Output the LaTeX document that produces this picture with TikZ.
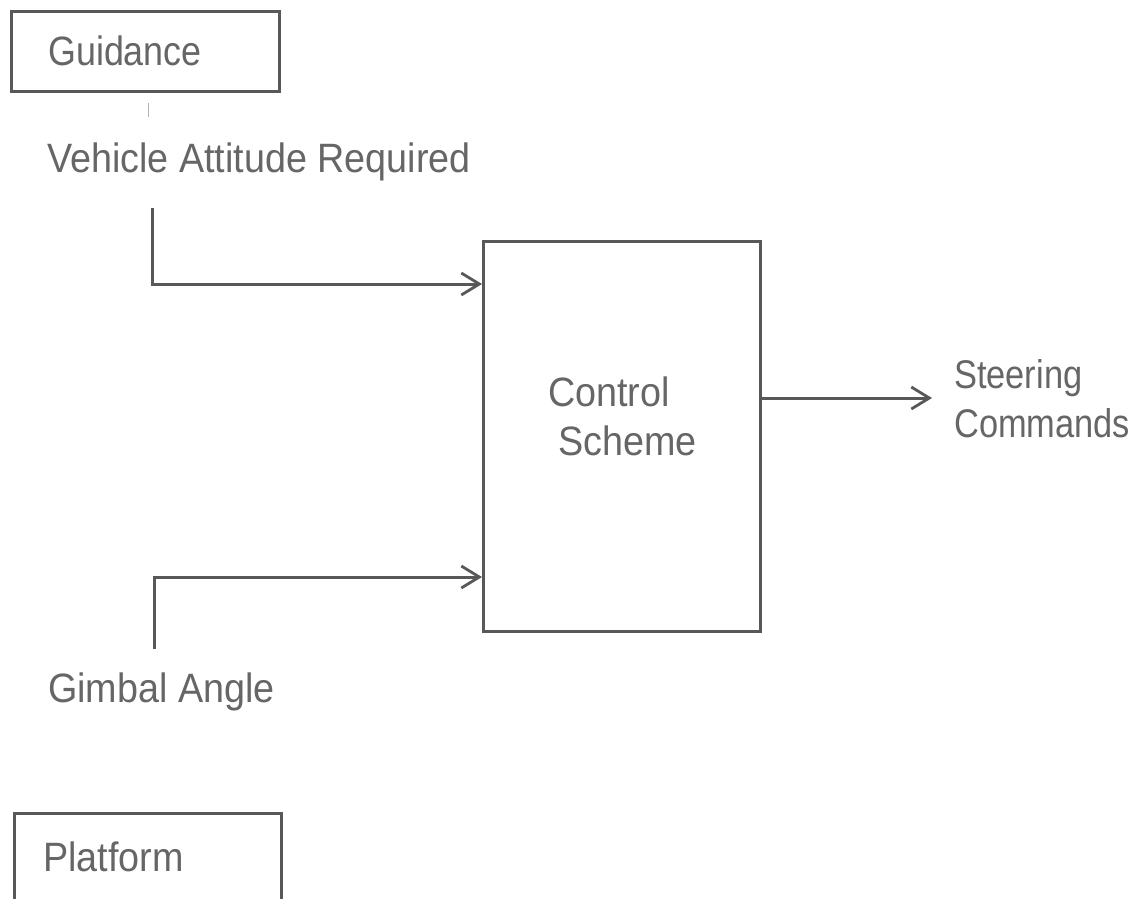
\documentclass[tikz,border=0pt]{standalone}
\usepackage{fontspec}
\setmainfont[FakeStretch=0.92]{Liberation Sans}
\newfontfamily\narrowsans[FakeStretch=0.86]{Liberation Sans}
\newfontfamily\midsans[FakeStretch=0.875]{Liberation Sans}
\usetikzlibrary{arrows.meta}
\definecolor{ink}{HTML}{585858}
\definecolor{txt}{HTML}{666666}
\begin{document}
\begin{tikzpicture}[x=1pt,y=-1pt,
  lbl/.style={font=\fontsize{41}{49}\selectfont, text=txt, inner sep=0pt},
  blk/.style={draw=ink, line width=3pt},
  wire/.style={draw=ink, line width=3pt, line join=miter},
  flow/.style={wire, -{Straight Barb[length=18pt,width=22pt,line width=2.8pt]}}]
\useasboundingbox (0,0) rectangle (1142,898);
\clip (0,0) rectangle (1142,898);
\fill[white] (0,0) rectangle (1142,898);

% source blocks
\node (guid) [blk, anchor=north west, minimum width=268pt, minimum height=80pt] at (10,10) {};
\node (guidtxt) [lbl, anchor=base west] at (48,65) {\midsans Guidance};
\node (plat) [blk, anchor=north west, minimum width=267pt, minimum height=110pt] at (13,812) {};
\node (plattxt) [lbl, anchor=base west] at (43,871) {Platform};

% faint pencil tick below the guidance block
\coordinate (tA) at (148,103);
\coordinate (tB) at (148,117);
\draw[ink!45, line width=1pt] (tA) -- (tB);

% signal labels
\node (vreq) [lbl, anchor=base west] at (47,172) {Vehicle Attitude Required};
\node (gimb) [lbl, anchor=base west] at (48,702) {Gimbal Angle};

% control block
\node (ctrl) [blk, anchor=north west, minimum width=277pt, minimum height=390pt] at (482,240) {};
\node (ctrltxt) [lbl, align=left, anchor=base west] at (548,455) {Control\\[0pt]\hspace*{10pt}Scheme};

% output label
\node (steer) [lbl, font=\fontsize{40}{49}\selectfont\narrowsans, align=left, anchor=base west] at (954,437) {Steering\\Commands};

% connectors
\coordinate (vtop) at (152,208);
\coordinate (gbot) at (154,649);
\draw[flow] (vtop) |- (ctrl.west |- 0,284);
\draw[flow] (gbot) |- (ctrl.west |- 0,577);
\coordinate (outend) at (932,398);
\draw[flow] (ctrl.east |- 0,398) -- (outend);
\end{tikzpicture}
\end{document}
